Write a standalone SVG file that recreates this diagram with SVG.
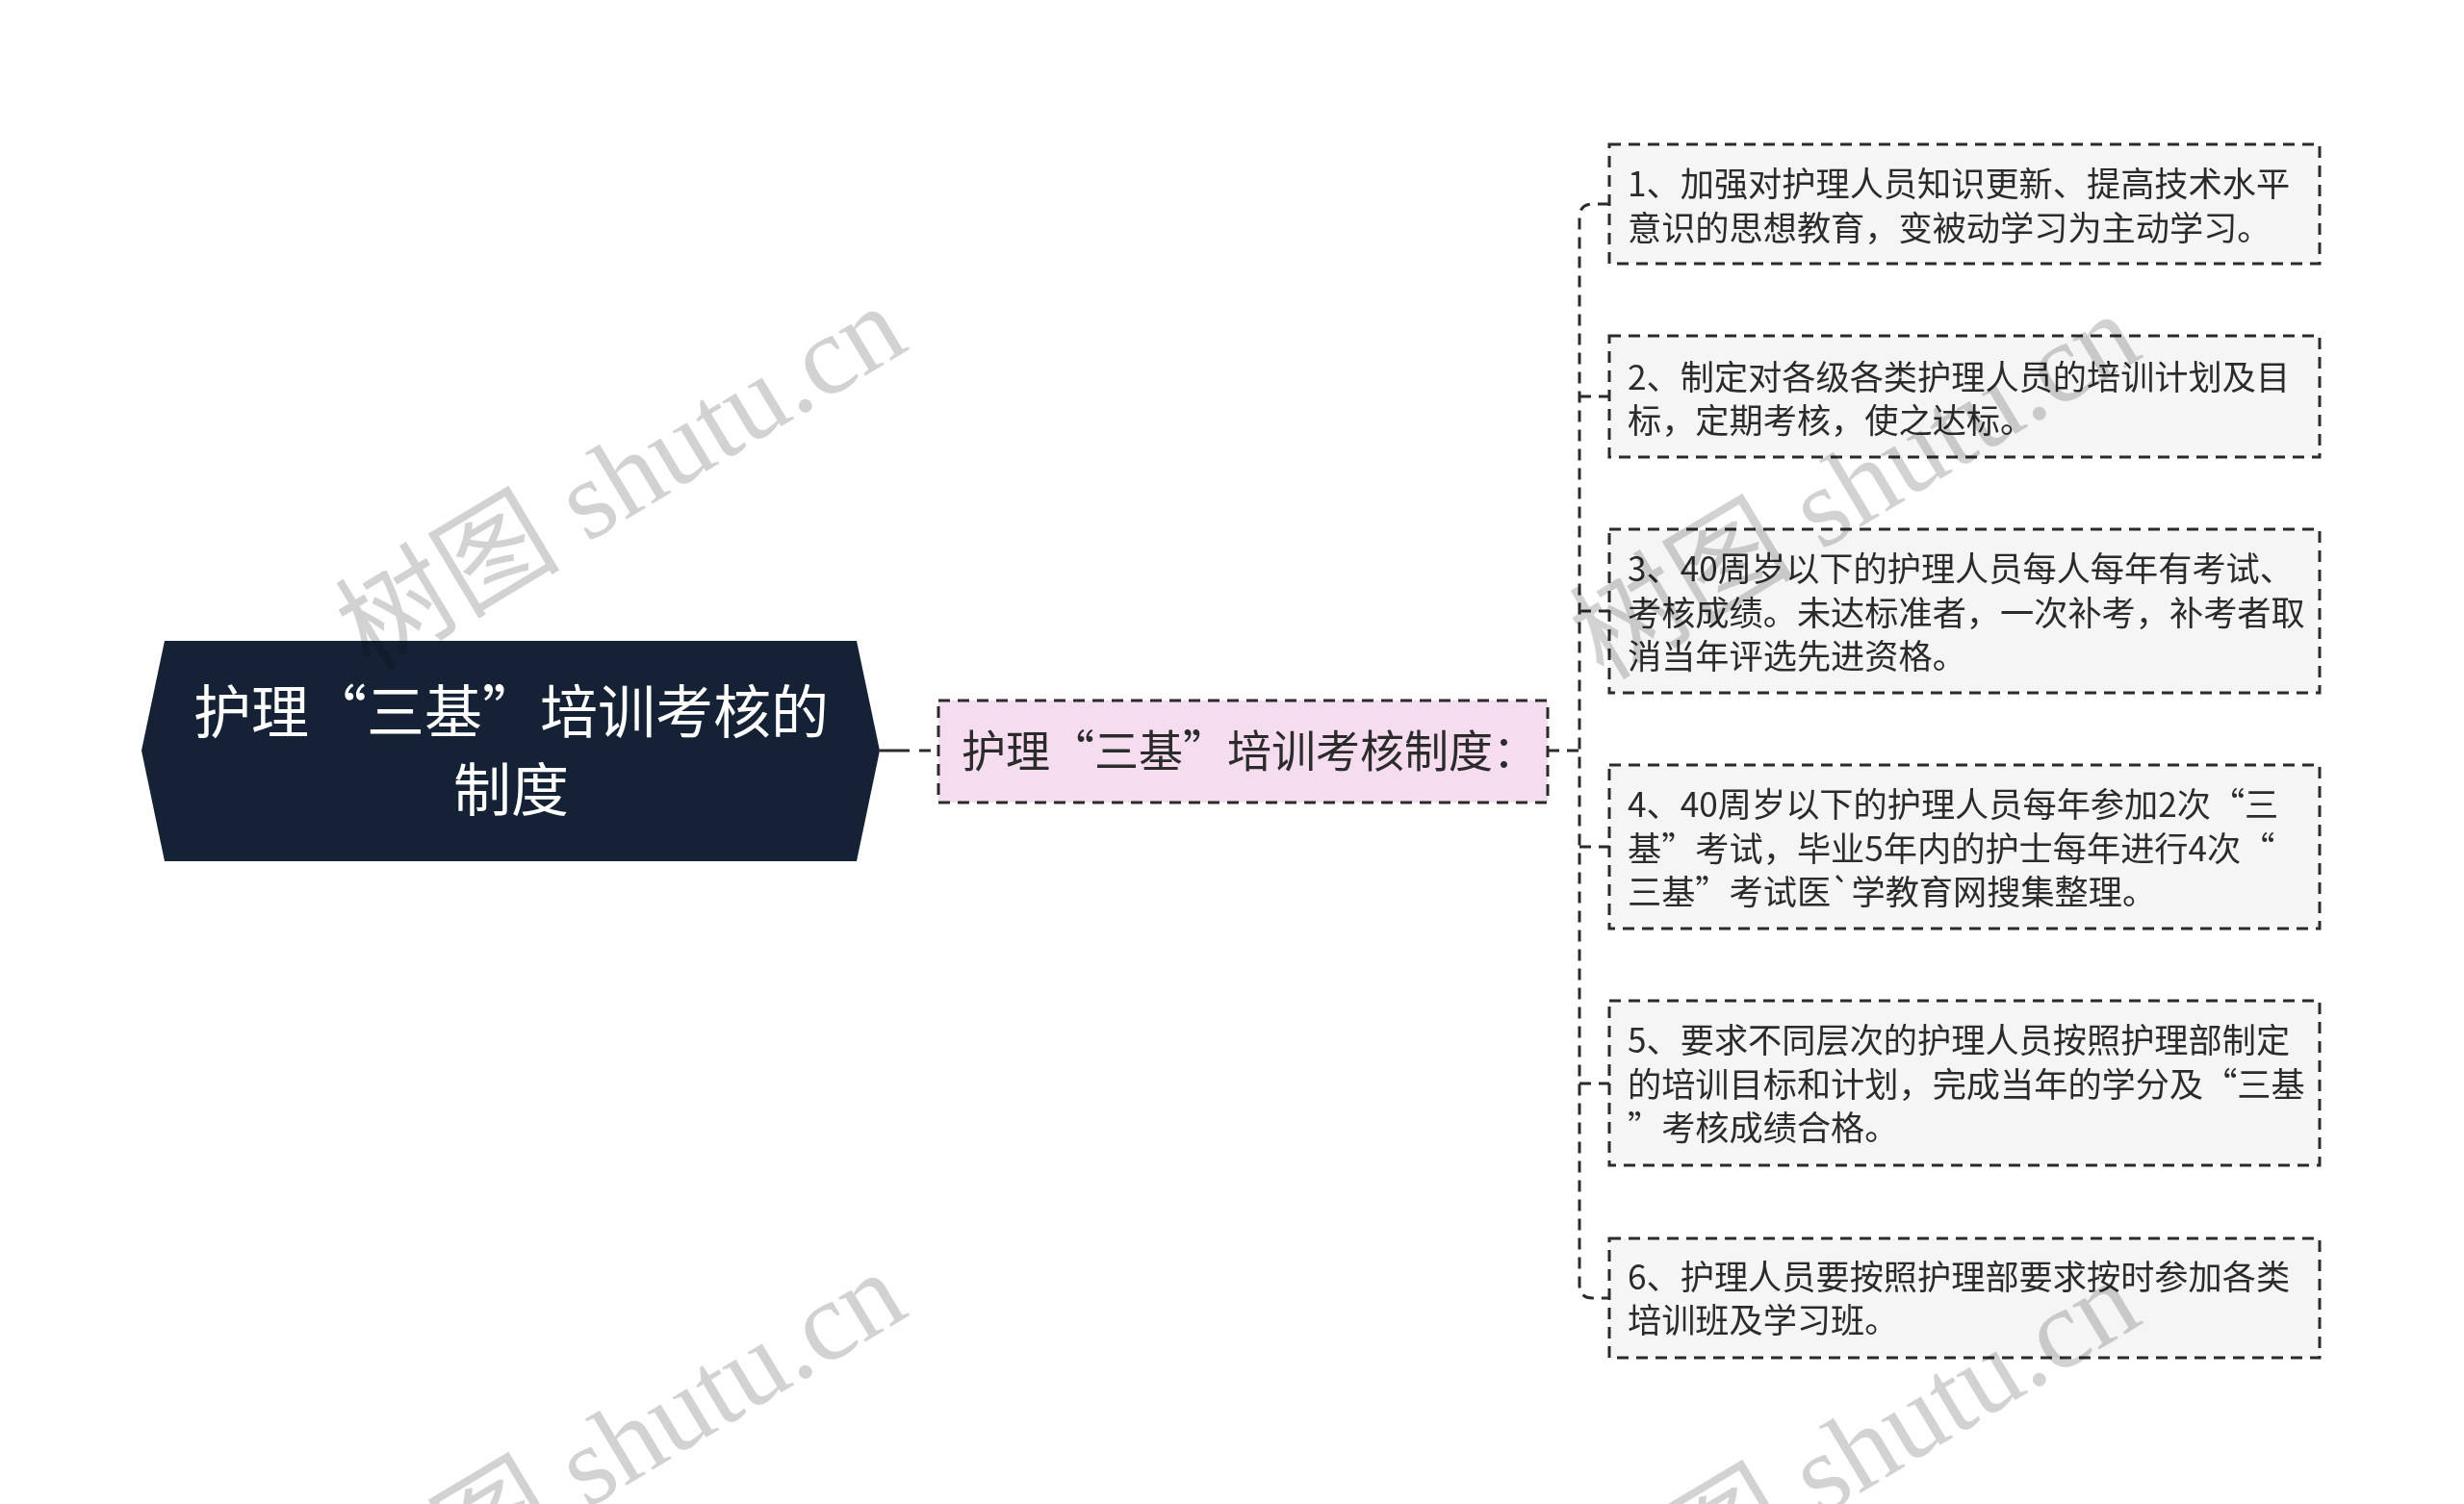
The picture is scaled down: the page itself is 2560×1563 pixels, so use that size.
<svg xmlns="http://www.w3.org/2000/svg" width="2560" height="1563" viewBox="0 0 2560 1563">
<style>
.leafbox{fill:#f5f5f5;stroke:#2b2b2b;stroke-width:3;stroke-dasharray:12 8}
.leaftxt{font-family:"Noto Sans CJK SC","Noto Sans",sans-serif;font-size:35.2px;fill:#2b2b2b}
.conn{fill:none;stroke:#2b2b2b;stroke-width:3;stroke-dasharray:12 8}
.wm{font-family:"Liberation Serif","Noto Sans CJK SC",serif;font-size:117px;fill:#d2d2d2;mix-blend-mode:multiply}
</style>
<rect width="2560" height="1563" fill="#ffffff"/>
<g id="connectors">
<line x1="914" y1="780" x2="945" y2="780" stroke="#2b2b2b" stroke-width="3"/>
<line x1="955" y1="780" x2="975" y2="780" class="conn"/>
<line x1="1608" y1="780" x2="1641" y2="780" class="conn"/>
<path class="conn" d="M1672,212 H1655 Q1641,212 1641,226 V1335 Q1641,1349 1655,1349 H1672"/>
<line x1="1641" y1="412" x2="1672" y2="412" class="conn"/>
<line x1="1641" y1="635" x2="1672" y2="635" class="conn"/>
<line x1="1641" y1="880" x2="1672" y2="880" class="conn"/>
<line x1="1641" y1="1126" x2="1672" y2="1126" class="conn"/>
</g>
<g id="root">
<polygon points="171,666 890,666 914,780 890,895 171,895 147,780" fill="#152235"/>
<text font-family="Noto Sans CJK SC,Noto Sans,sans-serif" font-size="60" fill="#ffffff" text-anchor="middle"><tspan x="531" y="762">护理“三基”培训考核的</tspan><tspan x="531" y="843">制度</tspan></text>
</g>
<g id="mid">
<rect x="975" y="728" width="633" height="106" fill="#f6dcef" stroke="#2b2b2b" stroke-width="3" stroke-dasharray="12 8"/>
<text x="999" y="797" font-family="Noto Sans CJK SC,Noto Sans,sans-serif" font-size="46" fill="#2b2b2b">护理“三基”培训考核制度：</text>
</g>
<g id="leaf1">
<rect class="leafbox" x="1672" y="150" width="738" height="124"/>
<text class="leaftxt"><tspan x="1691" y="204">1、加强对护理人员知识更新、提高技术水平</tspan><tspan x="1691" y="250">意识的思想教育，变被动学习为主动学习。</tspan></text>
</g>
<g id="leaf2">
<rect class="leafbox" x="1672" y="349" width="738" height="126"/>
<text class="leaftxt"><tspan x="1691" y="405">2、制定对各级各类护理人员的培训计划及目</tspan><tspan x="1691" y="450">标，定期考核，使之达标。</tspan></text>
</g>
<g id="leaf3">
<rect class="leafbox" x="1672" y="550" width="738" height="170"/>
<text class="leaftxt"><tspan x="1691" y="604">3、40周岁以下的护理人员每人每年有考试、</tspan><tspan x="1691" y="650">考核成绩。未达标准者，一次补考，补考者取</tspan><tspan x="1691" y="695">消当年评选先进资格。</tspan></text>
</g>
<g id="leaf4">
<rect class="leafbox" x="1672" y="795" width="738" height="170"/>
<text class="leaftxt"><tspan x="1691" y="849">4、40周岁以下的护理人员每年参加2次“三</tspan><tspan x="1691" y="895">基”考试，毕业5年内的护士每年进行4次“</tspan><tspan x="1691" y="940">三基”考试医`学教育网搜集整理。</tspan></text>
</g>
<g id="leaf5">
<rect class="leafbox" x="1672" y="1040" width="738" height="171"/>
<text class="leaftxt"><tspan x="1691" y="1094">5、要求不同层次的护理人员按照护理部制定</tspan><tspan x="1691" y="1140">的培训目标和计划，完成当年的学分及“三基</tspan><tspan x="1691" y="1185">”考核成绩合格。</tspan></text>
</g>
<g id="leaf6">
<rect class="leafbox" x="1672" y="1287" width="738" height="124"/>
<text class="leaftxt"><tspan x="1691" y="1340">6、护理人员要按照护理部要求按时参加各类</tspan><tspan x="1691" y="1385">培训班及学习班。</tspan></text>
</g>
<g id="watermarks">
<text class="wm" transform="translate(384,700) rotate(-31)">树图 shutu.cn</text>
<text class="wm" transform="translate(1666,708) rotate(-31)">树图 shutu.cn</text>
<text class="wm" transform="translate(384,1704) rotate(-31)">树图 shutu.cn</text>
<text class="wm" transform="translate(1666,1712) rotate(-31)">树图 shutu.cn</text>
</g>
</svg>
